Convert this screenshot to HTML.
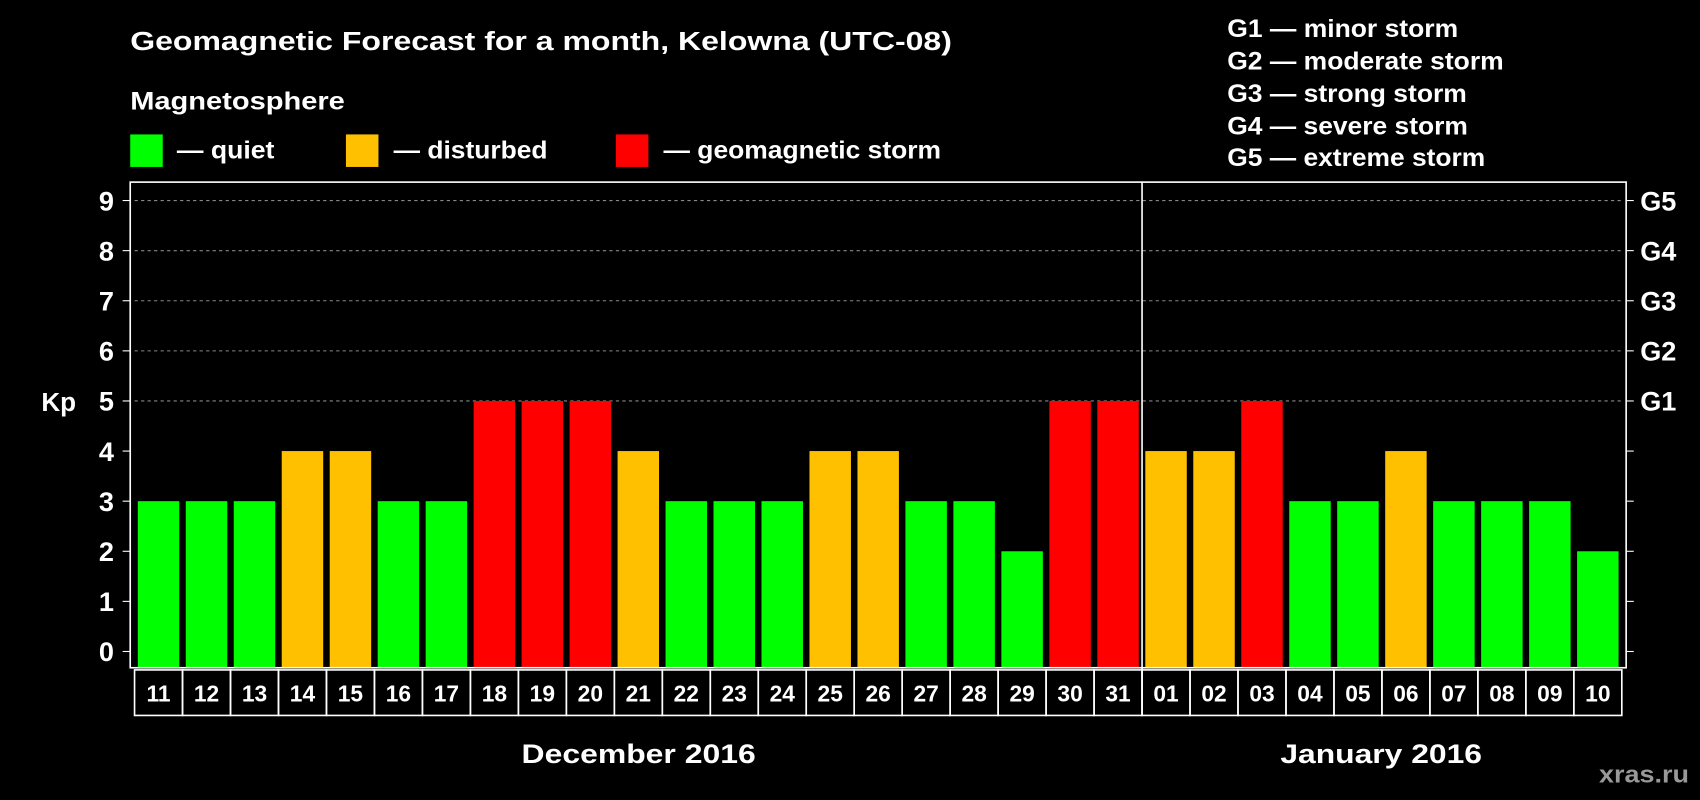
<!DOCTYPE html>
<html><head><meta charset="utf-8"><style>
html,body{margin:0;padding:0;background:#000;}
svg{display:block;font-family:"Liberation Sans",Arial,sans-serif;font-weight:bold;}
</style></head><body>
<svg id="chart" width="1700" height="800" viewBox="0 0 1568 738" xmlns="http://www.w3.org/2000/svg">
<rect width="1568" height="738" fill="#000"/>
<text x="120" y="46" fill="#fff" font-size="24" textLength="758" lengthAdjust="spacingAndGlyphs">Geomagnetic Forecast for a month, Kelowna (UTC-08)</text>
<text x="120" y="101" fill="#fff" font-size="23" textLength="198" lengthAdjust="spacingAndGlyphs">Magnetosphere</text>
<g><rect x="120" y="124" width="30" height="30" fill="#00ff00"/><text x="163" y="146" fill="#fff" font-size="23" textLength="90" lengthAdjust="spacingAndGlyphs">— quiet</text></g>
<g><rect x="319" y="124" width="30" height="30" fill="#ffc000"/><text x="363" y="146" fill="#fff" font-size="23" textLength="142" lengthAdjust="spacingAndGlyphs">— disturbed</text></g>
<g><rect x="568" y="124" width="30" height="30" fill="#ff0000"/><text x="612" y="146" fill="#fff" font-size="23" textLength="256" lengthAdjust="spacingAndGlyphs">— geomagnetic storm</text></g>
<g fill="#fff" font-size="23">
<text x="1132" y="34" textLength="213" lengthAdjust="spacingAndGlyphs">G1 — minor storm</text>
<text x="1132" y="64" textLength="255" lengthAdjust="spacingAndGlyphs">G2 — moderate storm</text>
<text x="1132" y="94" textLength="221" lengthAdjust="spacingAndGlyphs">G3 — strong storm</text>
<text x="1132" y="124" textLength="222" lengthAdjust="spacingAndGlyphs">G4 — severe storm</text>
<text x="1132" y="153" textLength="238" lengthAdjust="spacingAndGlyphs">G5 — extreme storm</text>
</g>
<text x="38" y="379" fill="#fff" font-size="24">Kp</text>
<g id="plot"></g>
<text x="481" y="704" fill="#fff" font-size="25" textLength="216" lengthAdjust="spacingAndGlyphs">December 2016</text>
<text x="1181" y="704" fill="#fff" font-size="25" textLength="186" lengthAdjust="spacingAndGlyphs">January 2016</text>
<text x="1475" y="722" fill="#999" font-size="22" textLength="83" lengthAdjust="spacingAndGlyphs">xras.ru</text>
</svg>
<script>
const days = ["11","12","13","14","15","16","17","18","19","20","21","22","23","24","25","26","27","28","29","30","31","01","02","03","04","05","06","07","08","09","10"];
const kpValues = [3,3,3,4,4,3,3,5,5,5,4,3,3,3,4,4,3,3,2,5,5,4,4,5,3,3,4,3,3,3,2];
const yTicks = [0,1,2,3,4,5,6,7,8,9];
const gLabels = ["G1","G2","G3","G4","G5"];
const NS="http://www.w3.org/2000/svg";
const g=document.getElementById('plot');
const L=124,R=1496,T=168,B=616;
const cw=(R-L)/days.length;
function y(v){return 601-v*(601-185)/9;}
function x(i){return L+i*cw;}
function mk(t,a){const e=document.createElementNS(NS,t);for(const k in a)e.setAttribute(k,a[k]);g.appendChild(e);return e;}
for(let v=5;v<=9;v++){const l=mk('line',{x1:L,x2:R,y1:y(v),y2:y(v),stroke:'#888','stroke-dasharray':'3,3','stroke-width':1});

}
kpValues.forEach((v,i)=>{const c=v>=5?'#ff0000':v>=4?'#ffc000':'#00ff00';
const r=mk('rect',{x:x(i)+3,y:y(v),width:cw-6,height:B-y(v),fill:c});


const b=mk('rect',{x:x(i),y:B+2,width:cw,height:42,fill:'none',stroke:'#fff','stroke-width':1.5});


const t=mk('text',{x:x(i)+cw/2,y:B+31,fill:'#fff','font-size':21,'text-anchor':'middle'});t.textContent=days[i];

});
const f=mk('rect',{x:120,y:T,width:1380,height:B-T,fill:'none',stroke:'#fff','stroke-width':1.5});


const d=mk('line',{x1:x(21),x2:x(21),y1:T,y2:B+44,stroke:'#fff','stroke-width':1.5});


yTicks.forEach(v=>{mk('line',{x1:113,x2:120,y1:y(v),y2:y(v),stroke:'#fff'});mk('line',{x1:1500,x2:1507,y1:y(v),y2:y(v),stroke:'#fff'});
const t=mk('text',{x:105,y:y(v)+9,fill:'#fff','font-size':25,'text-anchor':'end'});t.textContent=v;

});
gLabels.forEach((s,i)=>{const t=mk('text',{x:1513,y:y(5+i)+9,fill:'#fff','font-size':25});t.textContent=s;

});
</script>
</body></html>
